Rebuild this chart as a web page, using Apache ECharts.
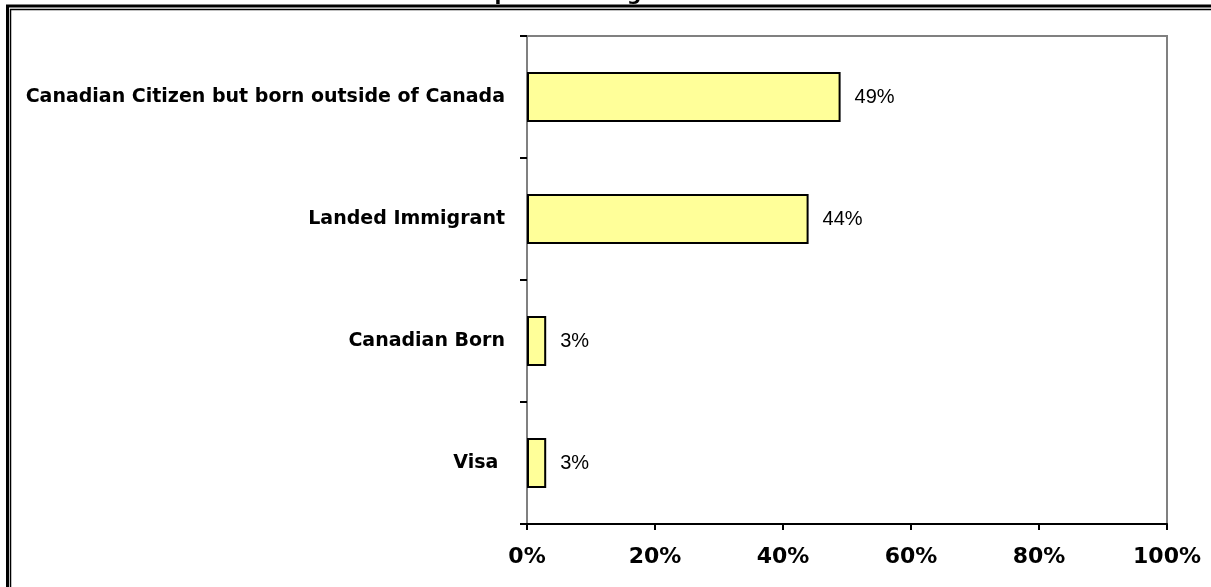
<!DOCTYPE html>
<html>
<head>
<meta charset="utf-8">
<script src="https://cdn.jsdelivr.net/npm/echarts@6/dist/echarts.min.js"></script>
<style>
  html, body { margin: 0; padding: 0; background: #fff; }
  #chart { width: 1211px; height: 587px; }
</style>
</head>
<body>
<div id="chart"></div>
<script>
// data
const categories = ["Canadian Citizen but born outside of Canada", "Landed Immigrant", "Canadian Born", "Visa "];
const percents = [49, 44, 3, 3];
const xTicks = [0, 20, 40, 60, 80, 100];

const boldFont = "DejaVu Sans, Verdana, sans-serif";

const myChart = echarts.init(document.getElementById("chart"));
myChart.setOption({
  backgroundColor: "#fff",
  animation: false,
  textStyle: { fontFamily: "Liberation Sans, Arial, sans-serif" },
  title: {
    text: "Participants' Immigration Status",
    left: "center",
    top: -20,
    textStyle: { fontSize: 20, fontWeight: "bold", color: "#000", fontFamily: boldFont }
  },
  graphic: [
    // double frame round the chart (clipped at right and bottom)
    { type: "rect", shape: { x: 7.5, y: 6, width: 1400, height: 800 }, style: { fill: "none", stroke: "#000", lineWidth: 3 }, silent: true },
    { type: "rect", shape: { x: 10.5, y: 9.5, width: 1400, height: 800 }, style: { fill: "none", stroke: "#000", lineWidth: 1.5 }, silent: true }
  ],
  grid: {
    left: 527,
    right: 44,
    top: 36,
    bottom: 63,
    show: true,
    borderColor: "#808080",
    borderWidth: 2
  },
  xAxis: {
    type: "value",
    min: xTicks[0],
    max: xTicks[xTicks.length - 1],
    interval: 20,
    axisLine: { show: true, lineStyle: { color: "#000", width: 2 } },
    axisTick: { show: true, length: 6, lineStyle: { color: "#000", width: 2 } },
    axisLabel: {
      formatter: "{value}%",
      margin: 22,
      fontSize: 22,
      fontWeight: "bold",
      fontFamily: boldFont,
      color: "#000"
    },
    splitLine: { show: false }
  },
  yAxis: {
    type: "category",
    inverse: true,
    data: categories,
    axisLine: { show: true, lineStyle: { color: "#808080", width: 2 } },
    axisTick: { show: true, length: 7, lineStyle: { color: "#000", width: 2 } },
    axisLabel: {
      margin: 22,
      fontSize: 19,
      fontWeight: "bold",
      fontFamily: boldFont,
      color: "#000"
    }
  },
  series: [
    {
      type: "bar",
      data: percents,
      barWidth: "41%",
      itemStyle: {
        color: "#FFFF99",
        borderColor: "#000",
        borderWidth: 2
      },
      label: {
        show: true,
        position: "right",
        distance: 14,
        formatter: "{c}%",
        fontSize: 20,
        color: "#000"
      }
    }
  ]
});
</script>
</body>
</html>
